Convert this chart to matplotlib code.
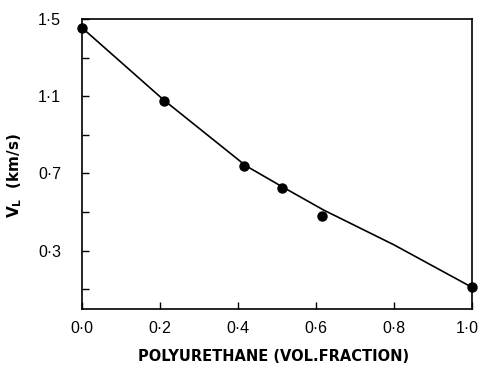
import matplotlib
matplotlib.use("Agg")
import matplotlib.pyplot as plt
from matplotlib.transforms import ScaledTranslation

# measured data points
x_pts = [0.0, 0.211, 0.416, 0.512, 0.615, 1.0]
y_pts = [1.455, 1.077, 0.74, 0.626, 0.481, 0.11]

# fitted curve
x_curve = [0.0, 0.21, 0.42, 0.51, 0.62, 0.8, 1.0]
y_curve = [1.455, 1.08, 0.74, 0.635, 0.51, 0.33, 0.11]

x_ticks = [0.0, 0.2, 0.4, 0.6, 0.8, 1.0]
x_ticklabels = ["0·0", "0·2", "0·4", "0·6", "0·8", "1·0"]
y_ticks = [0.3, 0.7, 1.1, 1.5]
y_ticklabels = ["0·3", "0·7", "1·1", "1·5"]
y_minor = [0.1, 0.5, 0.9, 1.3]

plt.rcParams['font.family'] = ['Liberation Sans', 'DejaVu Sans']
fig = plt.figure(figsize=(4.81, 3.74), dpi=100)
ax = fig.add_axes([0.1705, 0.175, 0.8108, 0.774])

ax.plot(x_curve, y_curve, color='black', lw=1.2, zorder=2)
ax.plot(x_pts, y_pts, 'o', color='black', ms=6.5, zorder=3, clip_on=False)

ax.set_xlim(0, 1.0)
ax.set_ylim(0, 1.5)
ax.set_xticks(x_ticks)
ax.set_xticklabels(x_ticklabels)
ax.set_yticks(y_ticks)
ax.set_yticklabels(y_ticklabels)
ax.set_yticks(y_minor, minor=True)

ax.tick_params(axis='both', which='both', direction='in', top=False, right=False,
               labelsize=11.5, width=1.0, color='black')
ax.tick_params(axis='x', which='major', length=5, pad=9)
ax.tick_params(axis='y', which='major', length=5, pad=15)
ax.tick_params(axis='y', which='minor', length=5)

# nudge last x label so it stays inside the figure
last = ax.get_xticklabels()[-1]
last.set_transform(last.get_transform() + ScaledTranslation(-5 / 100, 0, fig.dpi_scale_trans))

for s in ax.spines.values():
    s.set_linewidth(1.2)

ax.set_xlabel("POLYURETHANE (VOL.FRACTION)", fontsize=10.5, fontweight='bold',
              family=['DejaVu Sans'])
ax.xaxis.set_label_coords(0.49, -0.14)
ax.set_ylabel(r"V$_\mathregular{L}$  (km/s)", fontsize=11, fontweight='bold',
              family=['DejaVu Sans'])
ax.yaxis.set_label_coords(-0.15, 0.46)

fig.savefig("out.png", dpi=100)
